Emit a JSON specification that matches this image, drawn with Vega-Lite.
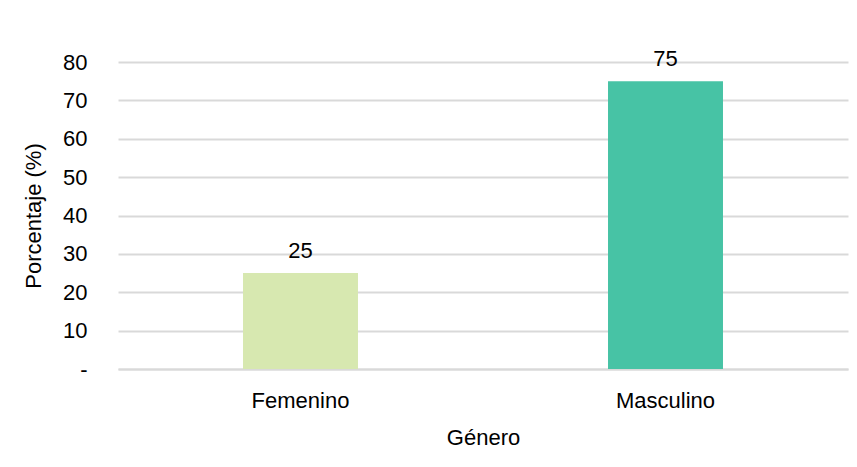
{
  "$schema": "https://vega.github.io/schema/vega-lite/v6.json",
  "autosize": {"type": "none"},
  "width": 730,
  "height": 307,
  "padding": {"left": 118, "top": 62, "right": 9, "bottom": 98},
  "background": "white",
  "config": {
    "view": {"stroke": null},
    "font": "Liberation Sans",
    "axis": {"labelFont": "Liberation Sans", "titleFont": "Liberation Sans", "labelColor": "#000000", "titleColor": "#000000", "titleFontWeight": "normal"}
  },
  "data": {
    "values": [
      {"genero": "Femenino", "porcentaje": 25},
      {"genero": "Masculino", "porcentaje": 75}
    ]
  },
  "encoding": {
    "x": {
      "field": "genero",
      "type": "nominal",
      "sort": null,
      "scale": {"paddingInner": 0.685, "paddingOuter": 0.3425},
      "axis": {
        "title": "Género",
        "labelAngle": 0,
        "labelFontSize": 22,
        "titleFontSize": 22,
        "labelPadding": 21,
        "titlePadding": 16,
        "ticks": false,
        "domain": true,
        "domainColor": "#d9d9d9",
        "domainWidth": 2,
        "grid": false
      }
    },
    "y": {
      "field": "porcentaje",
      "type": "quantitative",
      "scale": {"domain": [0, 80], "nice": false},
      "axis": {
        "title": "Porcentaje (%)",
        "values": [0, 10, 20, 30, 40, 50, 60, 70, 80],
        "labelExpr": "datum.value == 0 ? '-' : datum.label",
        "labelFontSize": 22,
        "titleFontSize": 22,
        "labelPadding": 31,
        "titlePadding": 17,
        "ticks": false,
        "domain": false,
        "grid": true,
        "gridColor": "#d9d9d9",
        "gridWidth": 2
      }
    }
  },
  "layer": [
    {
      "mark": {"type": "bar"},
      "encoding": {
        "color": {
          "field": "genero",
          "type": "nominal",
          "scale": {"domain": ["Femenino", "Masculino"], "range": ["#d7e8b0", "#47c3a5"]},
          "legend": null
        }
      }
    },
    {
      "mark": {"type": "text", "baseline": "bottom", "dy": -10, "fontSize": 22, "color": "#000000"},
      "encoding": {
        "text": {"field": "porcentaje", "type": "quantitative"}
      }
    }
  ]
}
